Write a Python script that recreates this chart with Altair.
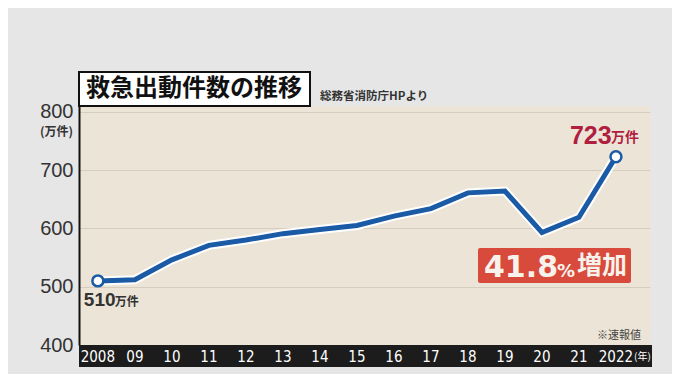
import altair as alt
import pandas as pd

# ---- data ----
years = [2008, 2009, 2010, 2011, 2012, 2013, 2014, 2015, 2016, 2017, 2018, 2019, 2020, 2021, 2022]
values = [510, 512, 546, 571, 580, 591, 598, 605, 621, 634, 661, 664, 593, 619, 723]
year_labels = ["2008", "09", "10", "11", "12", "13", "14", "15", "16", "17", "18", "19", "20", "21", "2022"]
y_ticks = [400, 500, 600, 700, 800]

title_text = "救急出動件数の推移"
source_text = "総務省消防庁HPより"
unit_text = "(万件)"
note_text = "※速報値"

W, H = 571, 239
BLUE = "#1b5ba6"
RED_TXT = "#b01e40"
RED_BOX = "#d84a3b"
JP = "Noto Sans CJK JP"
NARROW = "DejaVu Sans Condensed, Roboto, sans-serif"

df = pd.DataFrame({"year": years, "value": values})
lab = pd.DataFrame({"year": years, "label": year_labels})
ends = pd.DataFrame({"year": [years[0], years[-1]], "value": [values[0], values[-1]]})
dummy = pd.DataFrame({"a": [0]})

xs = alt.Scale(domain=[2007.49, 2022.92], nice=False, zero=False)
ys = alt.Scale(domain=[400, 810], nice=False, zero=False)

X = alt.X("year:Q", scale=xs, axis=None)
Y = alt.Y("value:Q", scale=ys, title=None,
          axis=alt.Axis(values=y_ticks, labelFontSize=20, labelColor="#333333",
                        labelFont="Liberation Sans", labelPadding=6, ticks=False,
                        domain=True, domainColor="#111111", domainWidth=2,
                        grid=True, gridColor="#d5cdbd", gridWidth=1))

halo = alt.Chart(df).mark_line(color="white", strokeWidth=9).encode(x=X, y=Y)
line = alt.Chart(df).mark_line(color=BLUE, strokeWidth=5).encode(x=X, y=Y)
pts = alt.Chart(ends).mark_point(shape="circle", filled=True, fill="white", stroke=BLUE,
                                 strokeWidth=2.5, size=120, opacity=1).encode(x=X, y=alt.Y("value:Q", scale=ys))

# x-axis band
band = alt.Chart(dummy).mark_rect(color="#1c1c1c").encode(
    x=alt.value(0), x2=alt.value(W + 2), y=alt.value(H), y2=alt.value(H + 22))
xlabels = alt.Chart(lab).mark_text(color="white", fontSize=15, font=NARROW,
                                   baseline="middle").encode(
    x=alt.X("year:Q", scale=xs, axis=None), y=alt.value(H + 11.5), text="label:N")
nen = alt.Chart(dummy).mark_text(text="(年)", color="white", fontSize=10, font=JP,
                                 align="left", baseline="middle").encode(
    x=alt.value(555), y=alt.value(H + 11.5))

# title box
tbox = alt.Chart(dummy).mark_rect(fill="white", stroke="#111111", strokeWidth=2).encode(
    x=alt.value(0), x2=alt.value(231), y=alt.value(-34), y2=alt.value(0))
ttext = alt.Chart(dummy).mark_text(text=title_text, fontSize=24, fontWeight="bold", font=JP,
                                   color="#111111", baseline="middle").encode(
    x=alt.value(115), y=alt.value(-17))
src = alt.Chart(dummy).mark_text(text=source_text, fontSize=11.5, font=JP, color="#333333",
                                 align="left", baseline="middle", fontWeight="bold").encode(
    x=alt.value(241), y=alt.value(-9))
unit = alt.Chart(dummy).mark_text(text=unit_text, fontSize=12, font=JP, color="#333333",
                                  align="right", baseline="middle", fontWeight="bold").encode(
    x=alt.value(-6), y=alt.value(26))
note = alt.Chart(dummy).mark_text(text=note_text, fontSize=11, font=JP, color="#444444",
                                  align="right", baseline="middle").encode(
    x=alt.value(562), y=alt.value(230))

# value annotations
first = ends.iloc[[0]]
last = ends.iloc[[1]]
a510 = alt.Chart(first).mark_text(text="510", fontSize=19, fontWeight="bold", font="Liberation Sans",
                                  color="#333333", align="left", baseline="middle", dx=-14, dy=19).encode(
    x=X, y=alt.Y("value:Q", scale=ys))
a510u = alt.Chart(first).mark_text(text="万件", fontSize=12, fontWeight="bold", font=JP,
                                   color="#333333", align="left", baseline="middle", dx=17, dy=21).encode(
    x=X, y=alt.Y("value:Q", scale=ys))
a723 = alt.Chart(last).mark_text(text="723", fontSize=25, fontWeight="bold", font="Liberation Sans",
                                 color=RED_TXT, align="left", baseline="middle", dx=-46, dy=-21).encode(
    x=X, y=alt.Y("value:Q", scale=ys))
a723u = alt.Chart(last).mark_text(text="万件", fontSize=14, fontWeight="bold", font=JP,
                                  color=RED_TXT, align="left", baseline="middle", dx=-5, dy=-19).encode(
    x=X, y=alt.Y("value:Q", scale=ys))

# red increase box
rbox = alt.Chart(dummy).mark_rect(fill=RED_BOX, cornerRadius=2).encode(
    x=alt.value(399), x2=alt.value(552), y=alt.value(142), y2=alt.value(177))
r1 = alt.Chart(dummy).mark_text(text="41.8", fontSize=30, fontWeight="bold", font="DejaVu Sans",
                                color="#f7f2ec", align="left", baseline="alphabetic").encode(
    x=alt.value(405), y=alt.value(171))
r2 = alt.Chart(dummy).mark_text(text="%", fontSize=18, fontWeight="bold", font="DejaVu Sans",
                                color="#f7f2ec", align="left", baseline="alphabetic").encode(
    x=alt.value(478), y=alt.value(171))
r3 = alt.Chart(dummy).mark_text(text="増加", fontSize=25, fontWeight="bold", font=JP,
                                color="#f7f2ec", align="left", baseline="middle").encode(
    x=alt.value(498), y=alt.value(160))

chart = alt.layer(
    halo, line, pts, band, xlabels, nen, tbox, ttext, src, unit, note,
    a510, a510u, a723, a723u, rbox, r1, r2, r3
).properties(
    width=W, height=H,
    autosize=alt.AutoSizeParams(type="none"),
    padding={"left": 71, "top": 98, "right": 22, "bottom": 29},
    background="#e6e6e6",
).configure_view(fill="#ece5d7", stroke=None)

chart.save("out.html", embed_options={"renderer": "svg", "actions": False})
